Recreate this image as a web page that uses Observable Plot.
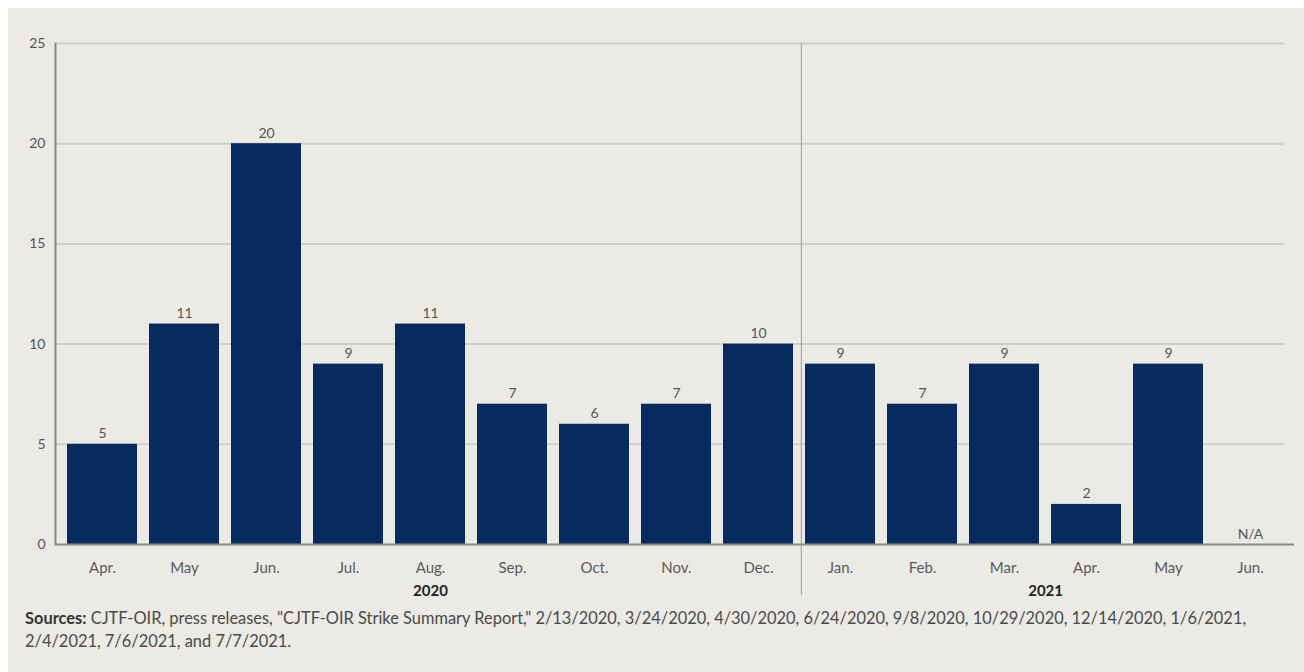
<!DOCTYPE html>
<html>
<head>
<meta charset="utf-8">
<script src="https://cdn.jsdelivr.net/npm/d3@7"></script>
<script src="https://cdn.jsdelivr.net/npm/@observablehq/plot@0.6"></script>
<style>
  html, body { margin: 0; padding: 0; background: #ffffff; }
  #wrap { position: absolute; left: 8px; top: 8px; width: 1296px; height: 664px; background: #ebeae4; }
  #caption { position: absolute; left: 17px; top: 598px; font-family: Lato, sans-serif; font-size: 16.5px; line-height: 23px; color: #4a4a4a; white-space: nowrap; }
  #caption b { font-weight: 700; color: #333; }
</style>
</head>
<body>
<div id="wrap"><div id="chart"></div>
<div id="caption"><span id="cap1"><b>Sources:</b> CJTF-OIR, press releases, "CJTF-OIR Strike Summary Report," 2/13/2020, 3/24/2020, 4/30/2020, 6/24/2020, 9/8/2020, 10/29/2020, 12/14/2020, 1/6/2021,</span><br>2/4/2021, 7/6/2021, and 7/7/2021.</div>
</div>
<script>
const months = ["Apr.","May","Jun.","Jul.","Aug.","Sep.","Oct.","Nov.","Dec.","Jan.","Feb.","Mar.","Apr.","May","Jun."];
const years = [2020,2020,2020,2020,2020,2020,2020,2020,2020,2021,2021,2021,2021,2021,2021];
const strikes = [5,11,20,9,11,7,6,7,10,9,7,9,2,9,null];
const yTicks = [0,5,10,15,20,25];
const yearLabels = ["2020","2021"];

const data = months.map((m, i) => ({key: `${years[i]} ${m}`, month: m, year: years[i], value: strikes[i]}));
const domain = data.map(d => d.key);
const xRange = [51, 1284];
const step = (xRange[1] - xRange[0]) / domain.length;

// year label anchors: middle of each year's group of months
const yearMarks = yearLabels.map(y => {
  const keys = data.filter(d => String(d.year) === y).map(d => d.key);
  const n = keys.length;
  return {key: keys[Math.floor((n - 1) / 2)], label: y, dx: n % 2 === 0 ? step / 2 : 0};
});
const firstOf2021 = data.find(d => d.year === 2021).key;

const font = "Lato, sans-serif";
const chart = Plot.plot({
  width: 1296,
  height: 600,
  marginLeft: 47,
  marginRight: 20,
  marginTop: 35,
  marginBottom: 64,
  style: {background: "transparent", fontFamily: font, fontSize: "14px", color: "#555"},
  x: {type: "band", domain, range: xRange, paddingInner: 0.15, paddingOuter: 0.075, label: null},
  y: {domain: [0, 25], label: null},
  marks: [
    Plot.ruleY(yTicks.filter(t => t > 0), {stroke: "#cfcec8", strokeWidth: 2}),
    Plot.ruleX([firstOf2021], {x: d => d, dx: -step / 2 + 2, stroke: "#a8a8a4", strokeWidth: 1.2, insetBottom: -51}),
    Plot.barY(data.filter(d => d.value != null), {x: "key", y: "value", fill: "#072a5f"}),
    Plot.frame({anchor: "left", stroke: "#8a8a86", strokeWidth: 2}),
    Plot.ruleY([0], {stroke: "#8a8a86", strokeWidth: 2, insetRight: -10}),
    Plot.axisY({ticks: yTicks, tickSize: 0, tickPadding: 10, fontSize: 14, fill: "#555"}),
    Plot.axisX({tickSize: 0, tickPadding: 18, tickFormat: k => k.split(" ").slice(1).join(" "), fontSize: 15, fill: "#5a5a5a"}),
    Plot.text(data, {x: "key", y: d => d.value ?? 0, text: d => d.value == null ? "N/A" : String(d.value), lineAnchor: "bottom", dy: -6, fontSize: 14, fill: "#555"}),
    ...yearMarks.map(m => Plot.text([m], {x: "key", text: "label", dx: m.dx, frameAnchor: "bottom", lineAnchor: "middle", dy: 47, fontSize: 15, fontWeight: "bold", fill: "#222"}))
  ]
});
document.getElementById("chart").appendChild(chart);

// fit the first caption line to the reference's line length
const cap1 = document.getElementById("cap1");
const cap = document.getElementById("caption");
const target = 1222;
const w = cap1.getBoundingClientRect().width;
cap.style.fontSize = (16.5 * target / w).toFixed(2) + "px";
</script>
</body>
</html>
